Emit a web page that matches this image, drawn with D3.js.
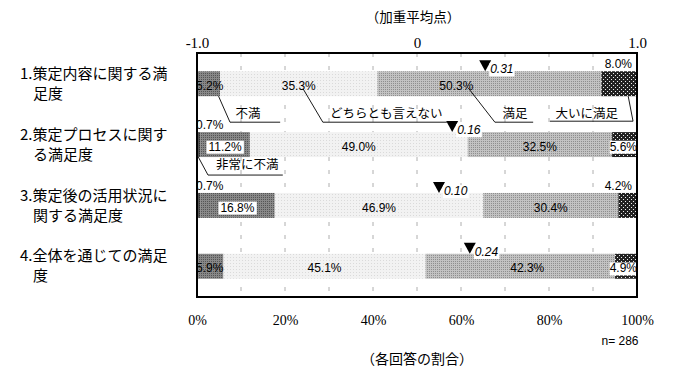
<!DOCTYPE html>
<html>
<head>
<meta charset="utf-8">
<script src="https://cdn.jsdelivr.net/npm/d3@7"></script>
<style>
    body { margin: 0; background: #fff; }
    svg { display: block; }
    text { fill: #000; }
    .cjk { font-family: "Noto Sans CJK JP", sans-serif; }
    .serif { font-family: "Liberation Serif", "DejaVu Serif", serif; }
    .val { font-family: "Liberation Sans", Arial, sans-serif; font-size: 12px; }
</style>
</head>
<body>
<svg id="chart" width="678" height="376"></svg>
<script>
// data
const categoryLines = [
    ["1.策定内容に関する満", "足度"],
    ["2.策定プロセスに関す", "る満足度"],
    ["3.策定後の活用状況に", "関する満足度"],
    ["4.全体を通じての満足", "度"]
];
const responseTypes = ["非常に不満", "不満", "どちらとも言えない", "満足", "大いに満足"];
const veryDissatisfied = [0, 0.7, 0.7, 0];
const dissatisfied = [5.2, 11.2, 16.8, 5.9];
const neutral = [35.3, 49.0, 46.9, 45.1];
const satisfied = [50.3, 32.5, 30.4, 42.3];
const verySatisfied = [8.0, 5.6, 4.2, 4.9];
const weightedMeans = [0.31, 0.16, 0.10, 0.24];
const meanTicks = [-1, 0, 1];
const pctTicks = [0, 20, 40, 60, 80, 100];
const sampleSize = 286;

// how each value label sits on its bar
const labelPlacement = [
    [null, "left", "center", "center", "aboveRight"],
    ["aboveLeft", "box", "center", "center", "right"],
    ["aboveLeft", "box", "center", "center", "aboveRight"],
    [null, "left", "center", "center", "right"]
];
const labelShift = { "0-3": -33, "3-3": 7 };

const margin = { top: 53, right: 41, bottom: 79, left: 197 };
const width = 678 - margin.left - margin.right;
const height = 376 - margin.top - margin.bottom;

const svg = d3.select("#chart");

// fill patterns
const defs = svg.append("defs");
function pattern(id, size, bg, dots, dotColor) {
    let p = defs.append("pattern").attr("id", id)
        .attr("patternUnits", "userSpaceOnUse")
        .attr("width", size).attr("height", size);
    p.append("rect").attr("width", size).attr("height", size).attr("fill", bg);
    dots.forEach(d => p.append("rect").attr("x", d[0]).attr("y", d[1])
        .attr("width", 1).attr("height", 1).attr("fill", dotColor));
}
pattern("pVeryDis", 2, "#555", [[0, 0]], "#333");
pattern("pDis", 2, "#888", [[0, 0]], "#555");
pattern("pNeutral", 3, "#f2f2f2", [[0, 0]], "#dadada");
pattern("pSat", 2, "#c2c2c2", [[0, 0]], "#8e8e8e");
pattern("pVerySat", 4, "#222", [[0, 0], [2, 2]], "#eee");
const fills = ["url(#pVeryDis)", "url(#pDis)", "url(#pNeutral)", "url(#pSat)", "url(#pVerySat)"];

const rows = categoryLines.map((c, i) => ({
    idx: i,
    values: [veryDissatisfied[i], dissatisfied[i], neutral[i], satisfied[i], verySatisfied[i]]
}));

const y = d3.scaleBand()
    .domain(rows.map(r => r.idx))
    .range([0, height])
    .paddingInner(0.59)
    .paddingOuter(0.3);

const pct = d3.scaleLinear().domain([0, 100]).range([0, width]);
const meanScale = d3.scaleLinear().domain([-1, 1]).range([0, width]);

const g = svg.append("g").attr("transform", `translate(${margin.left},${margin.top})`);

// dashed gridlines every 10%
g.append("g").selectAll("line")
    .data(pct.ticks(10).filter(t => t > 0 && t < 100))
    .enter().append("line")
    .attr("x1", d => pct(d)).attr("x2", d => pct(d))
    .attr("y1", 0).attr("y2", height)
    .attr("stroke", "#999").attr("stroke-width", 0.8)
    .attr("stroke-dasharray", "4,9");

// bars, each row scaled on its own total
rows.forEach(r => {
    r.total = d3.sum(r.values);
    r.x = d3.scaleLinear().domain([0, r.total]).range([0, width]);
    let acc = 0;
    r.segs = r.values.map((v, k) => {
        let s = { row: r.idx, k: k, v: v, x0: r.x(acc), x1: r.x(acc + v) };
        acc += v;
        return s;
    });
});

const bars = g.append("g");
rows.forEach(r => {
    bars.append("g").selectAll("rect")
        .data(r.segs.filter(s => s.v > 0))
        .enter().append("rect")
        .attr("x", s => s.x0)
        .attr("width", s => s.x1 - s.x0)
        .attr("y", y(r.idx))
        .attr("height", y.bandwidth())
        .attr("fill", s => fills[s.k]);
});

// value labels
const labels = g.append("g").attr("class", "val");
function boxed(sel, pad) {
    sel.each(function () {
        let b = this.getBBox();
        d3.select(this.parentNode).insert("rect", () => this)
            .attr("x", b.x - pad).attr("y", b.y + 1)
            .attr("width", b.width + 2 * pad).attr("height", b.height - 1)
            .attr("fill", "#fff");
    });
}
rows.forEach(r => {
    let top = y(r.idx), mid = top + y.bandwidth() / 2 + 3;
    r.segs.forEach(s => {
        let mode = labelPlacement[r.idx][s.k];
        if (!mode) return;
        let txt = s.v.toFixed(1) + "%";
        let t = labels.append("text").text(txt).attr("dominant-baseline", "middle");
        let shift = labelShift[r.idx + "-" + s.k] || 0;
        if (mode === "center" || mode === "box") {
            t.attr("x", (s.x0 + s.x1) / 2 + shift).attr("y", mid).attr("text-anchor", "middle");
        } else if (mode === "left") {
            t.attr("x", -1).attr("y", mid);
        } else if (mode === "right") {
            t.attr("x", width).attr("y", mid).attr("text-anchor", "end");
        } else if (mode === "aboveLeft") {
            t.attr("x", -1).attr("y", top - 6);
        } else if (mode === "aboveRight") {
            t.attr("x", width - 5).attr("y", top - 6).attr("text-anchor", "end");
        }
        if (mode === "box") boxed(t, 2);
        if (mode === "right") boxed(t, 0);
    });
});

// weighted mean markers
const marks = g.append("g");
rows.forEach(r => {
    let top = y(r.idx), mx = meanScale(weightedMeans[r.idx]);
    marks.append("path")
        .attr("d", `M${mx - 6},${top - 11}L${mx + 6},${top - 11}L${mx},${top}Z`)
        .attr("fill", "#000");
    let t = marks.append("text").attr("class", "val")
        .attr("x", mx + 5).attr("y", top - 1)
        .attr("dominant-baseline", "middle")
        .style("font-style", "italic")
        .text(weightedMeans[r.idx].toFixed(2));
    boxed(t, 1);
});

// legend callouts (row 0, and 非常に不満 under row 1)
const callouts = [
    { key: 1, row: 0, from: [4.9, "bottom", 0], elbow: [7.5, 26], end: 18.9, text: 11.6, ty: 18 },
    { key: 2, row: 0, from: [24.1, "mid", 5], elbow: [28.6, 26], end: 56.8, text: 43.0, ty: 18 },
    { key: 3, row: 0, from: [61.6, "mid", 4], elbow: [67.7, 26], end: 76.4, text: 72.3, ty: 18 },
    { key: 4, row: 0, from: [98.0, "bottom", 0], elbow: [99.1, 25], end: 80.2, text: 88.6, ty: 18 },
    { key: 0, row: 1, from: [0.3, "bottom", 0], elbow: [2.5, 18], end: 19.5, text: 11.4, ty: 9 }
];
const leg = g.append("g");
callouts.forEach(c => {
    let bottom = y(c.row) + y.bandwidth();
    let fy = c.from[1] === "bottom" ? bottom : y(c.row) + y.bandwidth() / 2 + c.from[2];
    let ey = bottom + c.elbow[1];
    leg.append("polyline")
        .attr("points", [[pct(c.from[0]), fy], [pct(c.elbow[0]), ey], [pct(c.end), ey]].join(" "))
        .attr("fill", "none").attr("stroke", "#000").attr("stroke-width", 0.9);
    leg.append("text").attr("class", "cjk")
        .attr("x", pct(c.text)).attr("y", bottom + c.ty)
        .attr("text-anchor", "middle").attr("dominant-baseline", "middle")
        .style("font-size", "12.5px")
        .text(responseTypes[c.key]);
});

// frame
g.append("rect").attr("width", width).attr("height", height)
    .attr("fill", "none").attr("stroke", "#000").attr("stroke-width", 2);

// top axis: weighted mean
const topAxis = g.append("g")
    .attr("class", "serif")
    .attr("transform", "translate(0,-5)")
    .call(d3.axisTop(meanScale).tickValues(meanTicks).tickSize(0).tickPadding(0)
        .tickFormat(d => d === 0 ? "0" : d.toFixed(1)));
topAxis.select(".domain").remove();
topAxis.selectAll("text").attr("font-family", null).attr("font-size", null)
    .style("font-size", "15px").attr("fill", "#000");

// bottom axis: response share
const botAxis = g.append("g")
    .attr("class", "serif")
    .attr("transform", `translate(0,${height})`)
    .call(d3.axisBottom(pct).tickValues(pctTicks).tickSize(0).tickPadding(18)
        .tickFormat(d => d + "%"));
botAxis.select(".domain").remove();
botAxis.selectAll("text").attr("font-family", null).attr("font-size", null)
    .style("font-size", "14px").attr("fill", "#000");

// category labels
const cats = svg.append("g").attr("class", "cjk").style("font-size", "15px");
rows.forEach(r => {
    let cy = margin.top + y(r.idx) + y.bandwidth() / 2;
    let lines = categoryLines[r.idx];
    cats.append("text").attr("x", 20).attr("y", cy - 9)
        .attr("dominant-baseline", "middle").text(lines[0]);
    cats.append("text").attr("x", 33).attr("y", cy + 11)
        .attr("dominant-baseline", "middle").text(lines[1]);
});

// titles
svg.append("text").attr("class", "cjk")
    .attr("x", margin.left + width / 2 - 4).attr("y", 18)
    .attr("text-anchor", "middle").attr("dominant-baseline", "middle")
    .style("font-size", "13.5px").text("（加重平均点）");
svg.append("text").attr("class", "cjk")
    .attr("x", margin.left + width / 2).attr("y", 360)
    .attr("text-anchor", "middle").attr("dominant-baseline", "middle")
    .style("font-size", "14px").text("（各回答の割合）");
svg.append("text").attr("class", "val")
    .attr("x", 620).attr("y", 342)
    .attr("text-anchor", "middle").attr("dominant-baseline", "middle")
    .style("font-size", "12px").text("n= " + sampleSize);
</script>
</body>
</html>
